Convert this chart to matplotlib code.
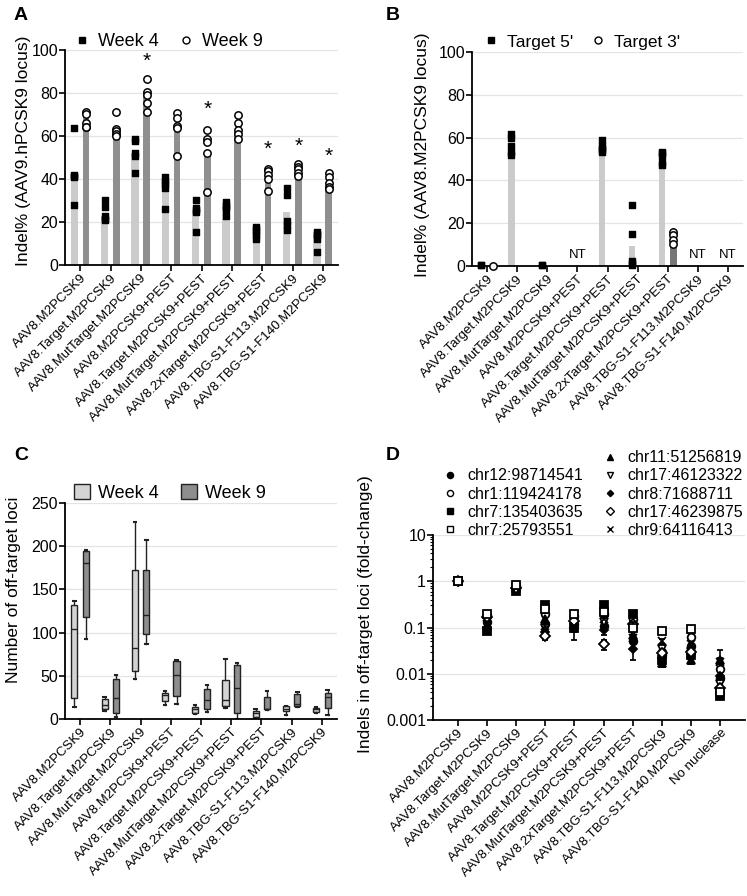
import matplotlib
matplotlib.use('Agg')
import matplotlib.pyplot as plt
from matplotlib.lines import Line2D
from matplotlib.patches import Patch
import numpy as np

plt.rcParams['font.family'] = ['Liberation Sans', 'DejaVu Sans']

groups = ['AAV8.M2PCSK9', 'AAV8.Target.M2PCSK9', 'AAV8.MutTarget.M2PCSK9',
          'AAV8.M2PCSK9+PEST', 'AAV8.Target.M2PCSK9+PEST', 'AAV8.MutTarget.M2PCSK9+PEST',
          'AAV8.2xTarget.M2PCSK9+PEST', 'AAV8.TBG-S1-F113.M2PCSK9', 'AAV8.TBG-S1-F140.M2PCSK9']
groups_d = groups + ['No nuclease']

# panel A: indel% at hPCSK9 locus
a_bar4 = [40, 23, 52, 38, 25, 27, 15, 24.5, 14]
a_bar9 = [69, 61, 79, 64, 53, 62, 41, 44, 37]
a_week4 = [[63.5, 42, 41.5, 41, 27.7], [30, 27, 23, 21.5, 20.8], [58.8, 57.7, 52, 50.8, 43],
           [41, 39, 37.7, 35.8, 26], [30, 26.5, 25.4, 24.6, 15.4], [29.5, 27.7, 27, 26, 23],
           [17.7, 16.6, 15.4, 13.8, 12.3], [35.7, 32.6, 20.3, 18.5, 16.5], [15.4, 14.6, 13.8, 12.3, 6.2]]
a_week9 = [[71, 70, 66, 64, 64], [71, 63.4, 62.3, 60.8, 60], [86.5, 80.3, 79.2, 75.4, 71],
           [70.8, 68.5, 64.6, 63.8, 50.8], [62.6, 58.5, 57, 52, 34], [69.7, 66, 63, 60.8, 58.8],
           [44.6, 43.8, 42, 40, 34.6], [47, 45.4, 44.6, 42.8, 41.5], [42.8, 40.8, 38, 36.2, 35.4]]
a_star_idx = [2, 4, 6, 7, 8]
a_star_y = [94.6, 72.6, 53.8, 55.4, 50.5]

# panel B: indel% at M2PCSK9 locus (None = not shown / NT)
b_bar5 = [0.3, 52, 0.5, None, 54, 9.3, 49, None, None]
b_bar3 = [0.2, None, None, None, None, None, 11, None, None]
b_t5 = [[0.3, 0.3], [61.9, 60, 56.1, 53.3, 51.8], [0.5, 0.5], [], [59, 56, 55, 54, 53.3],
        [28.5, 15, 2.5, 1.5, 0.5], [53.3, 52.6, 51.5, 47.9, 47.1], [], []]
b_t3 = [[0.2], [], [], [], [], [], [16, 14.3, 12.2, 10.4], [], []]
b_nt = [3, 7, 8]

# panel C: number of off-target loci (box stats)
c4_lo = [13.7, 9.8, 46, 15.7, 5.9, 12.5, 0, 5.1, 6.7]
c4_q1 = [24.3, 11.8, 56, 20.4, 6.7, 14.5, 2.7, 9.8, 8.6]
c4_med = [104, 15.7, 82.7, 27.5, 11, 22.4, 6.7, 12, 11.4]
c4_q3 = [132, 22.7, 172, 30.6, 13.7, 45, 9, 14.5, 12.9]
c4_hi = [136.5, 25.5, 228, 32, 15.7, 69.8, 11.8, 14.9, 13.7]
c9_lo = [93, 2.7, 86.5, 17.6, 8.6, 0, 10.6, 13.7, 5.1]
c9_q1 = [118, 7, 98.8, 26.7, 11.8, 7, 11.2, 14.5, 12.9]
c9_med = [181, 24.3, 120, 51.4, 21.6, 36, 12, 17.6, 25.5]
c9_q3 = [195, 46, 173, 66.7, 35.3, 62.4, 25.5, 29.4, 30.6]
c9_hi = [196, 51, 207, 68.6, 38.8, 64.7, 32.5, 31.4, 33.3]

# panel D: fold-change of indels at off-target loci
d_loci = ['chr12:98714541', 'chr1:119424178', 'chr7:135403635', 'chr7:25793551',
          'chr11:51256819', 'chr17:46123322', 'chr8:71688711', 'chr17:46239875', 'chr9:64116413']
d_fold = [
    [1.0, 0.13, 0.75, 0.12, 0.12, 0.11, 0.05, 0.03, 0.04, 0.008],
    [1.0, 0.19, 0.80, 0.20, 0.18, 0.20, 0.15, 0.025, 0.063, 0.0126],
    [1.0, 0.085, 0.62, 0.30, 0.10, 0.30, 0.20, 0.02, 0.025, 0.0033],
    [1.0, 0.20, 0.82, 0.25, 0.20, 0.22, 0.10, 0.085, 0.095, 0.004],
    [1.0, 0.11, 0.70, 0.15, 0.15, 0.25, 0.07, 0.017, 0.02, 0.02],
    [1.0, 0.15, 0.75, 0.10, 0.13, 0.13, 0.08, 0.035, 0.03, 0.006],
    [1.0, 0.10, 0.70, 0.08, 0.10, 0.09, 0.035, 0.022, 0.027, 0.009],
    [1.0, 0.17, 0.72, 0.065, 0.14, 0.043, 0.12, 0.028, 0.03, 0.005],
    [1.0, 0.12, 0.72, 0.11, 0.11, 0.15, 0.06, 0.05, 0.045, 0.018],
]
d_sd = [
    [0, 0.02, 0.05, 0.02, 0.02, 0.02, 0.015, 0.008, 0.01, 0.003],
    [0, 0.02, 0.05, 0.03, 0.03, 0.03, 0.03, 0.005, 0.01, 0.004],
    [0, 0.012, 0.05, 0.04, 0.02, 0.04, 0.03, 0.004, 0.005, 0.0005],
    [0, 0.03, 0.05, 0.04, 0.03, 0.04, 0.03, 0.006, 0.008, 0.0005],
    [0, 0.02, 0.05, 0.03, 0.03, 0.05, 0.015, 0.003, 0.004, 0.012],
    [0, 0.02, 0.05, 0.02, 0.02, 0.02, 0.015, 0.006, 0.005, 0.002],
    [0, 0.015, 0.05, 0.015, 0.045, 0.02, 0.015, 0.004, 0.005, 0.003],
    [0, 0.02, 0.05, 0.01, 0.02, 0.01, 0.02, 0.005, 0.005, 0.002],
    [0, 0.02, 0.05, 0.02, 0.02, 0.03, 0.01, 0.006, 0.006, 0.004],
]
d_marker = ['o', 'o', 's', 's', '^', 'v', 'D', 'D', 'x']
d_face = ['k', 'w', 'k', 'w', 'k', 'w', 'k', 'w', 'k']
d_size = [5.5, 5.5, 5.5, 5.5, 5.5, 5.5, 4, 5, 5.5]

LIGHT = '#cbcbcb'
DARK = '#8f8f8f'
GRID = '#e4e4e4'
OFF = 0.19
W = 0.24

fig = plt.figure(figsize=(7.47, 8.96), dpi=100)


def style_axes(ax):
    for s in ['top', 'right']:
        ax.spines[s].set_visible(False)
    for s in ['left', 'bottom']:
        ax.spines[s].set_linewidth(1.3)
    ax.tick_params(axis='y', labelsize=11.5, width=1.2, length=4, pad=1)
    ax.tick_params(axis='x', width=1.2, length=4, pad=1)
    ax.set_axisbelow(True)


def set_xlabels(ax, labels):
    ax.set_xticks(np.arange(len(labels)))
    ax.set_xticklabels(labels, rotation=45, ha='right', va='top',
                       rotation_mode='anchor', fontsize=9.5)


# ---------------- A ----------------
axA = fig.add_axes([65 / 747, 1 - 265 / 896, 273 / 747, 215 / 896])
style_axes(axA)
x = np.arange(len(groups))
axA.bar(x - OFF, a_bar4, width=W, color=LIGHT, zorder=2)
axA.bar(x + OFF, a_bar9, width=W * 0.9, color=DARK, zorder=2)
for i in range(len(groups)):
    axA.scatter([i - OFF] * len(a_week4[i]), a_week4[i], marker='s', s=22,
                color='k', zorder=3)
    axA.scatter([i + OFF] * len(a_week9[i]), a_week9[i], marker='o', s=28,
                facecolor='w', edgecolor='k', linewidth=1.1, zorder=3)
for i, yy in zip(a_star_idx, a_star_y):
    axA.text(i + OFF, yy, '*', ha='center', va='center', fontsize=15)
axA.set_xlim(-0.5, len(groups) - 0.5)
axA.set_ylim(0, 100)
axA.set_yticks([0, 20, 40, 60, 80, 100])
axA.yaxis.grid(True, color=GRID, lw=0.9)
set_xlabels(axA, groups)
axA.set_ylabel('Indel% (AAV9.hPCSK9 locus)', fontsize=12.5)
axA.yaxis.set_label_coords(-0.125, 0.53)
hA = [Line2D([], [], marker='s', ls='', color='k', markersize=4.5),
      Line2D([], [], marker='o', ls='', markerfacecolor='w', markeredgecolor='k',
             markersize=5, markeredgewidth=1)]
fig.legend(hA, ['Week 4', 'Week 9'], loc='center left', ncol=2, frameon=False,
           bbox_to_anchor=(73 / 747, 1 - 42 / 896), fontsize=13, borderpad=0,
           borderaxespad=0, handlelength=1.0, handletextpad=0.4, columnspacing=1.0)

# ---------------- B ----------------
axB = fig.add_axes([472 / 747, 1 - 266 / 896, 271 / 747, 214 / 896])
style_axes(axB)
for i in range(len(groups)):
    if b_bar5[i] is not None:
        axB.bar(i - OFF, b_bar5[i], width=W * 0.9, color=LIGHT, zorder=2)
    if b_bar3[i] is not None:
        axB.bar(i + OFF, b_bar3[i], width=W * 0.9, color='#777777', zorder=2)
    if b_t5[i]:
        axB.scatter([i - OFF] * len(b_t5[i]), b_t5[i], marker='s', s=22,
                    color='k', zorder=3, clip_on=False)
    if b_t3[i]:
        axB.scatter([i + OFF] * len(b_t3[i]), b_t3[i], marker='o', s=28,
                    facecolor='w', edgecolor='k', linewidth=1.1, zorder=3, clip_on=False)
for i in b_nt:
    axB.text(i, 2.2, 'NT', ha='center', va='bottom', fontsize=9.5)
axB.set_xlim(-0.5, len(groups) - 0.5)
axB.set_ylim(0, 100)
axB.set_yticks([0, 20, 40, 60, 80, 100])
axB.yaxis.grid(True, color=GRID, lw=0.9)
set_xlabels(axB, groups)
axB.set_ylabel('Indel% (AAV8.M2PCSK9 locus)', fontsize=12.5)
axB.yaxis.set_label_coords(-0.155, 0.52)
fig.legend(hA, ["Target 5'", "Target 3'"], loc='center left', ncol=2, frameon=False,
           bbox_to_anchor=(482 / 747, 1 - 42 / 896), fontsize=12.5, borderpad=0,
           borderaxespad=0, handlelength=1.0, handletextpad=0.45, columnspacing=0.9)

# ---------------- C ----------------
axC = fig.add_axes([65 / 747, 1 - 719 / 896, 272 / 747, 216 / 896])
style_axes(axC)


def box_stats(lo, q1, med, q3, hi):
    return [dict(whislo=lo[i], q1=q1[i], med=med[i], q3=q3[i], whishi=hi[i], fliers=[])
            for i in range(len(lo))]


for stats, off, col in [(box_stats(c4_lo, c4_q1, c4_med, c4_q3, c4_hi), -OFF, '#d4d4d4'),
                        (box_stats(c9_lo, c9_q1, c9_med, c9_q3, c9_hi), OFF, '#8e8e8e')]:
    axC.bxp(stats, positions=x + off, widths=0.2, patch_artist=True, showfliers=False,
            manage_ticks=False,
            boxprops=dict(facecolor=col, edgecolor='#222222', linewidth=1.0),
            medianprops=dict(color='#222222', linewidth=1.0),
            whiskerprops=dict(color='#222222', linewidth=1.0),
            capprops=dict(color='#222222', linewidth=1.5), capwidths=0.08)
axC.set_xlim(-0.5, len(groups) - 0.5)
axC.set_ylim(0, 250)
axC.set_yticks([0, 50, 100, 150, 200, 250])
axC.yaxis.grid(True, color=GRID, lw=0.9)
set_xlabels(axC, groups)
axC.set_ylabel('Number of off-target loci', fontsize=12.5)
axC.yaxis.set_label_coords(-0.16, 0.6)
hC = [Patch(facecolor='#d4d4d4', edgecolor='#222222', lw=1.0),
      Patch(facecolor='#8e8e8e', edgecolor='#222222', lw=1.0)]
fig.legend(hC, ['Week 4', 'Week 9'], loc='center left', ncol=2, frameon=False,
           bbox_to_anchor=(74 / 747, 1 - 493 / 896), fontsize=13, borderpad=0,
           borderaxespad=0, handlelength=0.9, handleheight=0.9, handletextpad=0.45,
           columnspacing=1.2)

# ---------------- D ----------------
axD = fig.add_axes([433 / 747, 1 - 720 / 896, 312 / 747, 185 / 896])
style_axes(axD)
xd = np.arange(len(groups_d))
handles = []
for k in range(len(d_loci)):
    mfc = d_face[k]
    axD.errorbar(xd, d_fold[k], yerr=d_sd[k], fmt=d_marker[k], color='k',
                 markerfacecolor=mfc, markeredgecolor='k', markersize=d_size[k],
                 markeredgewidth=1.3, elinewidth=1.2, capsize=2.5, capthick=1.2,
                 ls='none', zorder=3 if k != 3 else 4)
    handles.append(Line2D([], [], marker=d_marker[k], ls='', color='k',
                          markerfacecolor=mfc, markeredgecolor='k',
                          markersize=d_size[k] * 0.8, markeredgewidth=1.0))
axD.set_yscale('log')
axD.set_ylim(0.001, 10)
axD.set_xlim(-0.85, len(groups_d) - 0.15)
axD.set_yticks([0.001, 0.01, 0.1, 1, 10])
axD.set_yticklabels(['0.001', '0.01', '0.1', '1', '10'])
axD.tick_params(axis='y', which='minor', length=2.5, width=0.8)
axD.grid(True, axis='y', which='major', color=GRID, lw=0.9)
set_xlabels(axD, groups_d)
axD.set_ylabel('Indels in off-target loci (fold-change)', fontsize=12.5)
axD.yaxis.set_label_coords(-0.192, 0.57)
fig.legend(handles[:4], d_loci[:4], loc='lower left', frameon=False,
           bbox_to_anchor=(442 / 747, 1 - 538 / 896), fontsize=11.5, borderpad=0,
           borderaxespad=0, handlelength=1.0, handletextpad=0.6, labelspacing=0.2)
fig.legend(handles[4:], d_loci[4:], loc='lower left', frameon=False,
           bbox_to_anchor=(602 / 747, 1 - 538 / 896), fontsize=11.5, borderpad=0,
           borderaxespad=0, handlelength=1.0, handletextpad=0.6, labelspacing=0.2)

# panel letters
for lab, px, py in [('A', 14, 16), ('B', 386, 16), ('C', 14, 455), ('D', 386, 455)]:
    fig.text(px / 747, 1 - py / 896, lab, fontsize=14, fontweight='bold',
             ha='left', va='center')

fig.savefig('out.png', dpi=100)
